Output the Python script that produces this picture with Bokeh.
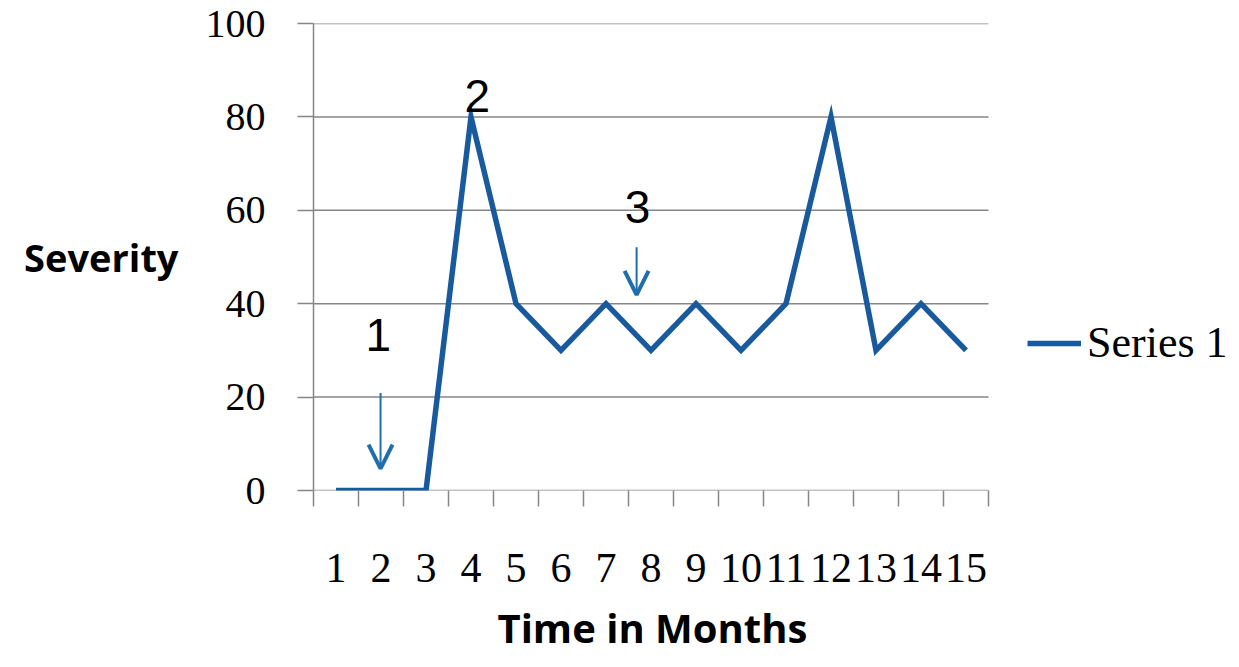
from bokeh.plotting import figure
from bokeh.models import (Range1d, FixedTicker, Legend, LegendItem, Label, Arrow,
                          OpenHead, Title)
from bokeh.embed import file_html
from bokeh.resources import INLINE

# Severity of symptoms per month
months = list(range(1, 16))
severity = [0, 0, 0, 80, 40, 30, 40, 30, 40, 30, 40, 80, 30, 40, 30]
y_ticks = [0, 20, 40, 60, 80, 100]
series_name = "Series 1"

# numbered callouts: (text, x, y centre) and arrows (x, y_from, y_to)
callout_text = ["1", "2", "3"]
callout_x = [1.94, 4.14, 7.70]
callout_y = [33.4, 84.4, 60.7]
arrow_x = [1.99, 7.68]
arrow_from = [20.9, 52.1]
arrow_to = [4.7, 41.9]

LINE = "#185a9d"
ARROW = "#1f6fae"
GRID = "#868686"
SERIF = "Liberation Serif"

# the frame runs on to the right edge so the legend can sit beside the lines;
# each category is 45 px wide
W, H = 1239, 667
LEFT, TOP, BOTTOM = 313, 23, 177
cat_lo, cat_hi = months[0] - 0.5, months[-1] + 0.5
x_hi = cat_lo + (W - LEFT) / 45.0

p = figure(width=W, height=H,
           x_range=Range1d(cat_lo, x_hi), y_range=Range1d(y_ticks[0], y_ticks[-1]),
           output_backend="svg", toolbar_location=None,
           min_border_left=LEFT, min_border_right=0,
           min_border_top=TOP, min_border_bottom=BOTTOM,
           background_fill_color="white", border_fill_color="white")
p.outline_line_color = None
p.xgrid.grid_line_color = None
p.ygrid.grid_line_color = None

# horizontal gridlines across the category span only
p.segment(x0=[cat_lo] * len(y_ticks), x1=[cat_hi] * len(y_ticks),
          y0=y_ticks, y1=y_ticks, line_color=GRID, line_width=1.5, level="underlay")

r = p.line(months, severity, line_color=LINE, line_width=5.5, line_join="miter")

# y axis
ya = p.yaxis[0]
ya.ticker = FixedTicker(ticks=y_ticks)
ya.axis_line_color = GRID
ya.axis_line_width = 1.5
ya.major_tick_line_color = GRID
ya.major_tick_line_width = 1.5
ya.major_tick_out = 16
ya.major_tick_in = 0
ya.minor_tick_line_color = None
ya.major_label_text_font = SERIF
ya.major_label_text_font_size = "40px"
ya.major_label_text_color = "black"
ya.major_label_standoff = 32
ya.axis_label = "Severity"
ya.axis_label_orientation = "horizontal"
ya.axis_label_text_font = "Open Sans"
ya.axis_label_text_font_style = "bold"
ya.axis_label_text_font_size = "38px"
ya.axis_label_text_color = "black"
ya.axis_label_standoff = 24

# x axis: labels at category centres, ticks on category boundaries
xa = p.xaxis[0]
xa.ticker = FixedTicker(ticks=months, minor_ticks=[m - 0.5 for m in months] + [cat_hi])
xa.axis_line_color = None
xa.major_tick_line_color = None
xa.major_tick_out = 0
xa.major_tick_in = 0
xa.minor_tick_line_color = GRID
xa.minor_tick_line_width = 1.5
xa.minor_tick_out = 16
xa.minor_tick_in = 0
xa.major_label_text_font = SERIF
xa.major_label_text_font_size = "42px"
xa.major_label_text_color = "black"
xa.major_label_standoff = 47

# x axis title, centred under the category span
p.add_layout(Title(text="Time in Months", align="left", offset=184, standoff=26,
                   text_font="Open Sans", text_font_style="bold",
                   text_font_size="40px", text_color="black"), "below")

legend = Legend(items=[LegendItem(label=series_name, renderers=[r])],
                location=(714, 122), padding=0, margin=0, spacing=0,
                border_line_color=None, background_fill_alpha=0,
                glyph_width=54, glyph_height=20, label_standoff=6,
                label_text_font=SERIF, label_text_font_size="44px",
                label_text_color="black")
p.add_layout(legend)

for t, x, y in zip(callout_text, callout_x, callout_y):
    p.add_layout(Label(x=x, y=y, text=t, text_font="Liberation Sans",
                       text_font_size="46px", text_align="center",
                       text_baseline="middle", text_color="black"))

for x, y0, y1 in zip(arrow_x, arrow_from, arrow_to):
    p.add_layout(Arrow(x_start=x, y_start=y0, x_end=x, y_end=y1,
                       line_color=ARROW, line_width=2,
                       end=OpenHead(size=24, line_width=4, line_color=ARROW)))

open("out.html", "w").write(file_html(p, INLINE))
